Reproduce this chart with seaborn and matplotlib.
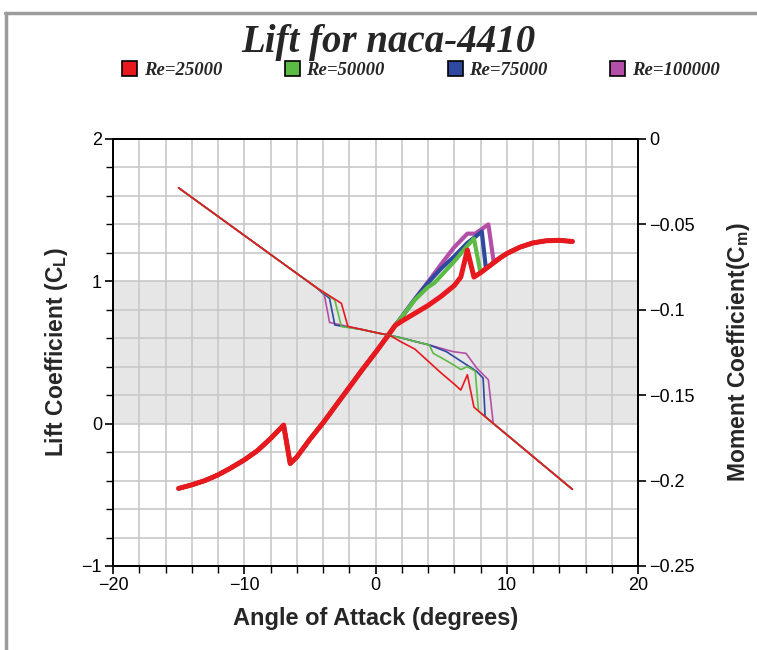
import numpy as np
import pandas as pd
import seaborn as sns
import matplotlib
matplotlib.use("Agg")
import matplotlib.pyplot as plt
from matplotlib.patches import Patch
from matplotlib.lines import Line2D
from matplotlib.ticker import MultipleLocator, FuncFormatter

# ---------------- data ----------------
series_names = ["Re=25000", "Re=50000", "Re=75000", "Re=100000"]
series_colors = ["#e8191e", "#5cbb44", "#2f48a0", "#b44fa8"]

# Lift: shared low-alpha part (all Re coincide)
alpha_lift_low = [-15, -14, -13, -12, -11, -10, -9, -8, -7, -6.5, -6, -5, -4, -3, -2, -1, 0, 1, 1.5]
cl_low = [-0.455, -0.43, -0.40, -0.36, -0.31, -0.255, -0.19, -0.105, -0.01, -0.28,
          -0.235, -0.11, 0.005, 0.13, 0.255, 0.38, 0.50, 0.625, 0.69]

# Re=25000 upper part (other curves join it after stall)
alpha_lift_r = [2, 3, 4, 5, 6, 6.5, 7, 7.5, 8, 8.5, 9, 9.5, 10, 11, 12, 13, 14, 15]
cl_r = [0.72, 0.775, 0.83, 0.895, 0.97, 1.03, 1.22, 1.03, 1.06, 1.095, 1.13, 1.165,
        1.195, 1.24, 1.27, 1.285, 1.288, 1.28]

alpha_lift_g = [2, 3, 4, 4.5, 5, 6, 7, 7.5, 8]
cl_g = [0.75, 0.87, 0.96, 0.99, 1.04, 1.14, 1.25, 1.30, 1.06]

alpha_lift_b = [2, 3, 4, 5, 6, 7, 7.5, 8.1, 8.4]
cl_b = [0.75, 0.875, 0.99, 1.09, 1.175, 1.27, 1.305, 1.35, 1.10]

alpha_lift_p = [2, 3, 4, 5, 6, 7, 7.6, 8.6, 9.0]
cl_p = [0.75, 0.875, 0.995, 1.12, 1.24, 1.335, 1.335, 1.40, 1.14]

# Moment: shared upper line
alpha_cm_up = [-15, -12, -9, -6, -4.5]
cm_up = [-0.0286, -0.0453, -0.0620, -0.0787, -0.0870]
# transition (drop) per Re
alpha_cm_drop_r = [-2.6, -2.1]
cm_drop_r = [-0.0962, -0.1098]
alpha_cm_drop_g = [-3.1, -2.6]
cm_drop_g = [-0.0943, -0.1098]
alpha_cm_drop_b = [-3.5, -3.1]
cm_drop_b = [-0.0933, -0.1089]
alpha_cm_drop_p = [-3.9, -3.5]
cm_drop_p = [-0.0913, -0.1074]
# shared middle line
alpha_cm_mid = [-1, 0, 1.1]
cm_mid = [-0.1116, -0.1133, -0.1150]
# per-Re high-alpha part
alpha_cm_r = [2, 3, 4, 5, 6, 6.5, 7.0, 7.5]
cm_r = [-0.119, -0.123, -0.130, -0.137, -0.1435, -0.147, -0.138, -0.157]
alpha_cm_g = [2, 3, 4.1, 4.4, 5, 6, 6.5, 7.0, 7.6, 7.85]
cm_g = [-0.1165, -0.1185, -0.1206, -0.1255, -0.128, -0.1325, -0.135, -0.1333, -0.136, -0.1593]
alpha_cm_b = [2, 3, 4.1, 5.4, 6.7, 7.7, 8.2, 8.35]
cm_b = [-0.1165, -0.1185, -0.1206, -0.1245, -0.131, -0.136, -0.140, -0.1624]
alpha_cm_p = [2, 3, 4.1, 5.9, 6.9, 7.7, 8.6, 8.97]
cm_p = [-0.1165, -0.1185, -0.1206, -0.1245, -0.1255, -0.134, -0.141, -0.1665]
# shared post-stall line
alpha_cm_tail = [8, 9, 10, 11, 12, 13, 14, 15]
cm_tail = [-0.1603, -0.1667, -0.1731, -0.1795, -0.1859, -0.1923, -0.1987, -0.2051]


def lift_series(a_mid, c_mid):
    a = list(alpha_lift_low) + list(a_mid)
    c = list(cl_low) + list(c_mid)
    last = a_mid[-1]
    for aa, cc in zip(alpha_lift_r, cl_r):
        if aa > last:
            a.append(aa); c.append(cc)
    return a, c


def moment_series(a_drop, c_drop, a_hi, c_hi):
    a = [x for x in alpha_cm_up if x < a_drop[0]] + list(a_drop)
    c = [y for x, y in zip(alpha_cm_up, cm_up) if x < a_drop[0]] + list(c_drop)
    a += alpha_cm_mid + list(a_hi)
    c += cm_mid + list(c_hi)
    last = a_hi[-1]
    for aa, cc in zip(alpha_cm_tail, cm_tail):
        if aa > last + 0.2:
            a.append(aa); c.append(cc)
    return a, c


lift_data = [(alpha_lift_low + alpha_lift_r, cl_low + cl_r),
             lift_series(alpha_lift_g, cl_g),
             lift_series(alpha_lift_b, cl_b),
             lift_series(alpha_lift_p, cl_p)]
mom_data = [moment_series(alpha_cm_drop_r, cm_drop_r, alpha_cm_r, cm_r),
            moment_series(alpha_cm_drop_g, cm_drop_g, alpha_cm_g, cm_g),
            moment_series(alpha_cm_drop_b, cm_drop_b, alpha_cm_b, cm_b),
            moment_series(alpha_cm_drop_p, cm_drop_p, alpha_cm_p, cm_p)]

# ---------------- style ----------------
sns.set_style("white")
plt.rcParams['font.family'] = ['Liberation Sans', 'DejaVu Sans']
plt.rcParams['mathtext.fontset'] = 'custom'
plt.rcParams['mathtext.rm'] = 'Liberation Sans:bold'
plt.rcParams['mathtext.it'] = 'Liberation Sans:bold'
plt.rcParams['mathtext.bf'] = 'Liberation Sans:bold'
plt.rcParams['axes.unicode_minus'] = True

W, H = 757, 650
fig = plt.figure(figsize=(W / 100, H / 100), dpi=100)
ax = fig.add_axes([113 / W, 1 - 566 / H, 525 / W, 427 / H])
ax2 = ax.twinx()

ax.axhspan(0, 1, color='#e6e6e6', zorder=0.1, lw=0)
ax.set_axisbelow(True)

# lift curves (draw red last, on top)
for i in [3, 2, 1, 0]:
    a, c = lift_data[i]
    df = pd.DataFrame({"alpha": a, "cl": c})
    sns.lineplot(data=df, x="alpha", y="cl", ax=ax, color=series_colors[i],
                 lw=3.6 if i == 0 else 3.0, sort=False, estimator=None, legend=False,
                 zorder=3 + (3 - i))

for i in [3, 2, 1, 0]:
    a, c = mom_data[i]
    df = pd.DataFrame({"alpha": a, "cm": c})
    sns.lineplot(data=df, x="alpha", y="cm", ax=ax2, color=series_colors[i],
                 lw=1.2, sort=False, estimator=None, legend=False, zorder=3 + (3 - i))

ax.set_xlim(-20, 20)
ax.set_ylim(-1, 2)
ax2.set_ylim(-0.25, 0)

ax.xaxis.set_major_locator(MultipleLocator(10))
ax.xaxis.set_minor_locator(MultipleLocator(2))
ax.yaxis.set_major_locator(MultipleLocator(1))
ax.yaxis.set_minor_locator(MultipleLocator(0.2))
ax2.yaxis.set_major_locator(MultipleLocator(0.05))

fmt = FuncFormatter(lambda v, p: ('%g' % round(v, 4)).replace('-', '\u2212'))
ax.xaxis.set_major_formatter(fmt)
ax.yaxis.set_major_formatter(fmt)
ax2.yaxis.set_major_formatter(fmt)

ax.grid(True, which='both', color='#c8c8c8', lw=1.2)
ax2.grid(False)

for a_ in (ax, ax2):
    for s in a_.spines.values():
        s.set_color('black')
        s.set_linewidth(1.3)
    a_.tick_params(which='major', direction='out', length=6, width=1.2,
                   labelsize=13, colors='black', pad=2)
    a_.tick_params(which='minor', direction='out', length=5, width=1.0, colors='black')
ax.tick_params(axis='y', which='both', left=True, right=False)
ax.tick_params(axis='x', which='both', bottom=True, top=False)
ax2.tick_params(axis='y', which='both', right=True, left=False)

ax.set_xlabel('Angle of Attack (degrees)', fontsize=17, fontweight='bold', labelpad=9)
ax.set_ylabel(r'Lift Coefficient (C$_\mathrm{L}$)', fontsize=16.5, fontweight='bold', labelpad=8)
ax2.set_ylabel(r'Moment Coefficient(C$_\mathrm{m}$)', fontsize=16.5, fontweight='bold', labelpad=22)

fig.text(388 / W, 1 - 52 / H, 'Lift for naca-4410', family='Liberation Serif',
         weight='bold', style='italic', fontsize=28, ha='center', va='baseline')

handles = [Patch(facecolor=c, edgecolor='black', lw=1.2) for c in series_colors]
fig.legend(handles, series_names, ncol=4, loc='center', bbox_to_anchor=(421 / W, 1 - 70 / H),
           frameon=False, prop=dict(family='Liberation Serif', weight='bold', style='italic', size=13.5),
           handlelength=0.8, handleheight=0.8, handletextpad=0.35, columnspacing=3.35)

# outer frame lines
fig.add_artist(Line2D([5 / W, 1], [1 - 13 / H, 1 - 13 / H], transform=fig.transFigure,
                      color='#9c9c9c', lw=2.5))
fig.add_artist(Line2D([6 / W, 6 / W], [0, 1 - 13 / H], transform=fig.transFigure,
                      color='#9c9c9c', lw=2.5))

fig.savefig('out.png', dpi=100)
